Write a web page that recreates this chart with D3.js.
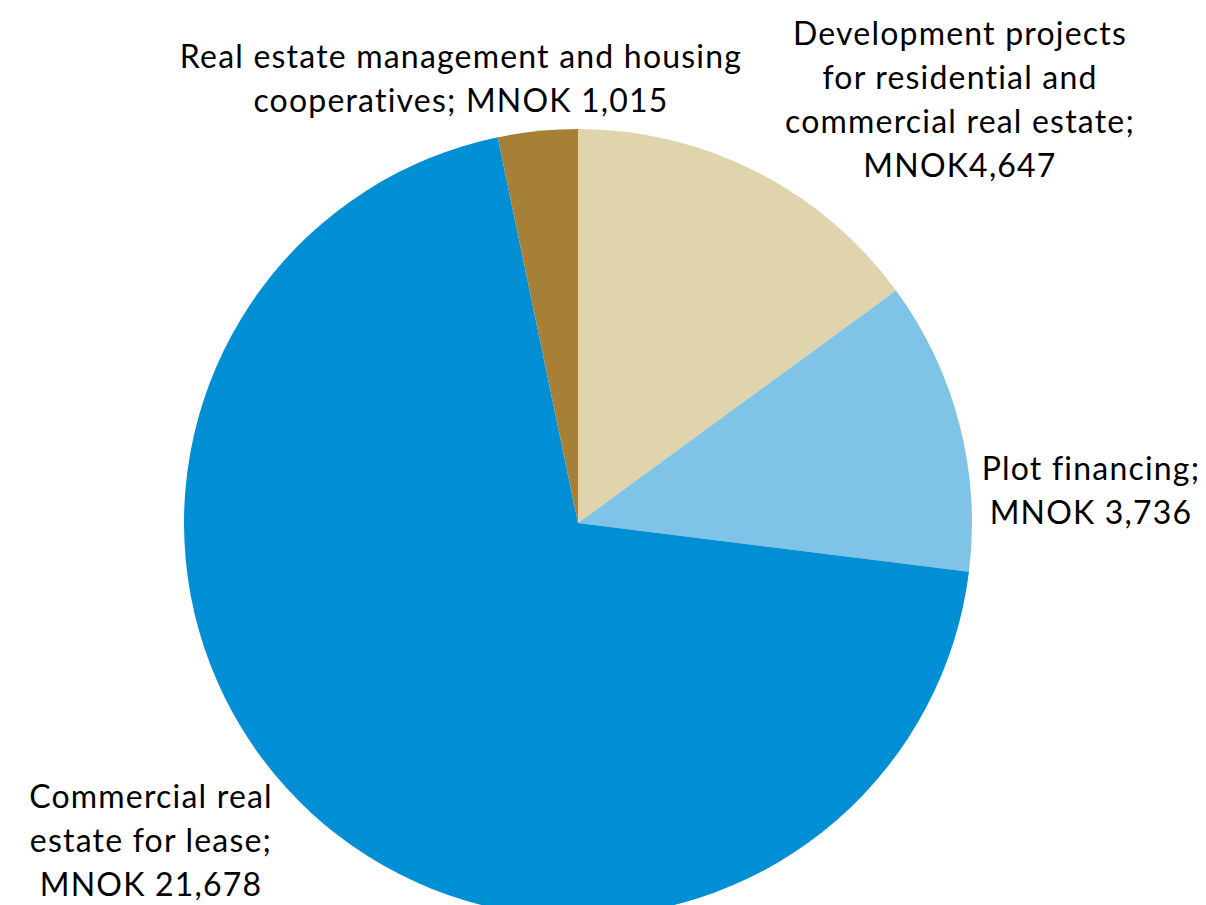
<!DOCTYPE html>
<html>
<head>
  <meta charset="utf-8">
  <title>Real estate exposure</title>
  <script src="https://cdn.jsdelivr.net/npm/d3@7"></script>
  <style>
    body { margin: 0; background: #fff; }
    .lbl { font-family: Lato, "Open Sans", sans-serif; font-size: 32px; letter-spacing: 1.2px; fill: #000; }
  </style>
</head>
<body>
<script>
  // data, clockwise from 12 o'clock
  var categories = [
    "Development projects for residential and commercial real estate",
    "Plot financing",
    "Commercial real estate for lease",
    "Real estate management and housing cooperatives"
  ];
  var values = [4647, 3736, 21678, 1015];
  var labelLines = [
    ["Development projects", "for residential and", "commercial real estate;", "MNOK4,647"],
    ["Plot financing;", "MNOK 3,736"],
    ["Commercial real", "estate for lease;", "MNOK 21,678"],
    ["Real estate management and housing", "cooperatives; MNOK 1,015"]
  ];
  var colors = ["#e0d4ad", "#7fc4e6", "#008fd5", "#a68036"];

  var w = 1206, h = 905;
  var cx = 578, cy = 523, r = 394;
  var lineH = 44;
  // label anchors (x center, first baseline)
  var labelPos = [[960, 45], [1091, 480], [151, 808], [461, 68]];

  var svg = d3.select("body").append("svg")
    .attr("width", w)
    .attr("height", h);

  var pie = d3.pie().sort(null).value(function (d) { return d; });
  var arc = d3.arc().innerRadius(0).outerRadius(r);

  var g = svg.append("g").attr("transform", "translate(" + cx + "," + cy + ")");

  g.selectAll("path")
    .data(pie(values))
    .enter().append("path")
    .attr("d", arc)
    .attr("fill", function (d, i) { return colors[i]; });

  categories.forEach(function (c, i) {
    var t = svg.append("text")
      .attr("class", "lbl")
      .attr("text-anchor", "middle");
    labelLines[i].forEach(function (line, j) {
      t.append("tspan")
        .attr("x", labelPos[i][0])
        .attr("y", labelPos[i][1] + j * lineH)
        .text(line);
    });
  });
</script>
</body>
</html>
